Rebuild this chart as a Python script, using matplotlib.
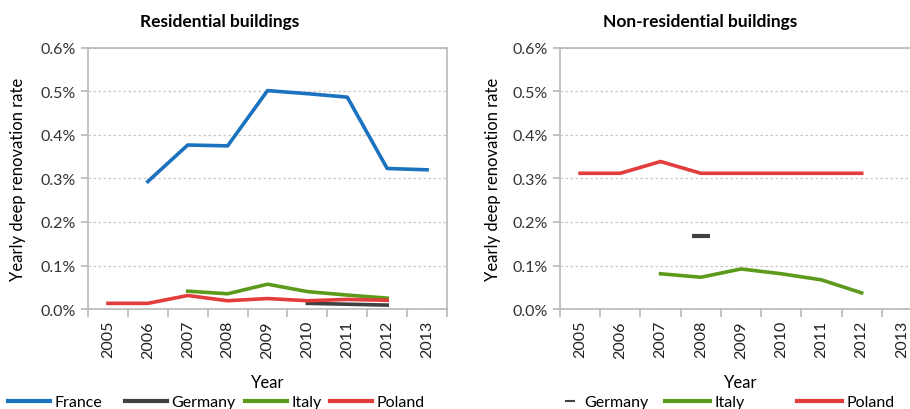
import matplotlib
matplotlib.use("Agg")
import matplotlib.pyplot as plt
from matplotlib.lines import Line2D
from matplotlib.ticker import FuncFormatter, FixedLocator

plt.rcParams["font.family"] = ["Lato", "DejaVu Sans"]

years = ["2005", "2006", "2007", "2008", "2009", "2010", "2011", "2012", "2013"]

# residential (% per year), None = no data
res_france = [None, 0.293, 0.377, 0.375, 0.502, 0.495, 0.487, 0.323, 0.320]
res_germany = [None, None, None, None, None, 0.013, 0.011, 0.009, None]
res_italy = [None, None, 0.041, 0.035, 0.057, 0.040, 0.032, 0.025, None]
res_poland = [0.013, 0.013, 0.031, 0.019, 0.024, 0.019, 0.022, 0.020, None]

# non-residential
non_germany = [None, None, None, 0.167, None, None, None, None, None]
non_italy = [None, None, 0.081, 0.073, 0.092, 0.081, 0.067, 0.037, None]
non_poland = [0.312, 0.312, 0.339, 0.312, 0.312, 0.312, 0.312, 0.312, None]

C_FRANCE = "#1b72be"
C_GERMANY = "#404040"
C_ITALY = "#5b9a1b"
C_POLAND = "#e23c3c"
C_SPINE = "#b8b8b8"


def xy(vals):
    xs = [i for i, v in enumerate(vals) if v is not None]
    return xs, [vals[i] for i in xs]


def style_axes(ax, ylabelpad):
    ax.set_xlim(-0.5, len(years) - 0.5)
    ax.set_ylim(0, 0.6)
    ax.set_yticks([0, 0.1, 0.2, 0.3, 0.4, 0.5, 0.6])
    ax.yaxis.set_major_formatter(FuncFormatter(lambda v, p: f"{v:.1f}%"))
    ax.grid(axis="y", color="#c8c8c8", linestyle=(0, (2, 2)), linewidth=0.9)
    ax.set_axisbelow(True)
    ax.set_xticks(range(len(years)))
    ax.set_xticklabels(years, rotation=90, fontsize=11.5, color="#222222")
    ax.tick_params(axis="x", which="major", length=0, pad=8)
    ax.xaxis.set_minor_locator(FixedLocator([i - 0.5 for i in range(len(years) + 1)]))
    ax.tick_params(axis="x", which="minor", length=6, color=C_SPINE, width=1.2)
    ax.tick_params(axis="y", length=5, color=C_SPINE, width=1.2, labelsize=11.5,
                   labelcolor="#333333", pad=4)
    for s in ax.spines.values():
        s.set_color(C_SPINE)
        s.set_linewidth(1.2)
    ax.set_xlabel("Year", fontsize=12, labelpad=12)
    ax.set_ylabel("Yearly deep renovation rate", fontsize=12, labelpad=ylabelpad)


fig = plt.figure(figsize=(9.1, 4.1), dpi=100)
ax1 = fig.add_axes([88 / 910, 0.2439, 359 / 910, 0.6366])
ax2 = fig.add_axes([560 / 910, 0.2439, 362 / 910, 0.6366])

lw = 2.6
ax1.plot(*xy(res_france), color=C_FRANCE, lw=lw, label="France")
ax1.plot(*xy(res_germany), color=C_GERMANY, lw=lw, label="Germany")
ax1.plot(*xy(res_italy), color=C_ITALY, lw=lw, label="Italy")
ax1.plot(*xy(res_poland), color=C_POLAND, lw=lw, label="Poland")
style_axes(ax1, 10)

ax2.plot(*xy(non_germany), color=C_GERMANY, lw=0, marker="_", markersize=13,
         markeredgewidth=3, label="Germany")
ax2.plot(*xy(non_italy), color=C_ITALY, lw=lw, label="Italy")
ax2.plot(*xy(non_poland), color=C_POLAND, lw=lw, label="Poland")
style_axes(ax2, 8)

fig.text(220 / 910, 1 - 22 / 410, "Residential buildings", ha="center", va="center",
         fontsize=12.5, fontweight="bold")
fig.text(700 / 910, 1 - 22 / 410, "Non-residential buildings", ha="center", va="center",
         fontsize=12.5, fontweight="bold")

# legend entries placed one by one (x of the handle start, in pixels)
line_h = lambda c: Line2D([], [], color=c, lw=3)
dash_h = Line2D([], [], color=C_GERMANY, lw=0, marker="_", markersize=7, markeredgewidth=1.5)
entries = [
    (line_h(C_FRANCE), "France", 8, 2.6),
    (line_h(C_GERMANY), "Germany", 125, 2.6),
    (line_h(C_ITALY), "Italy", 245, 2.6),
    (line_h(C_POLAND), "Poland", 330, 2.6),
    (dash_h, "Germany", 560, 1.2),
    (line_h(C_ITALY), "Italy", 665, 2.8),
    (line_h(C_POLAND), "Poland", 797, 2.8),
]
for h, lab, x, hl in entries:
    fig.legend(handles=[h], labels=[lab], frameon=False, loc="center left",
               bbox_to_anchor=(x / 910, 1 - 403 / 410), fontsize=11.5,
               handlelength=hl, handletextpad=0.3, borderaxespad=0, borderpad=0)

fig.savefig("out.png")
